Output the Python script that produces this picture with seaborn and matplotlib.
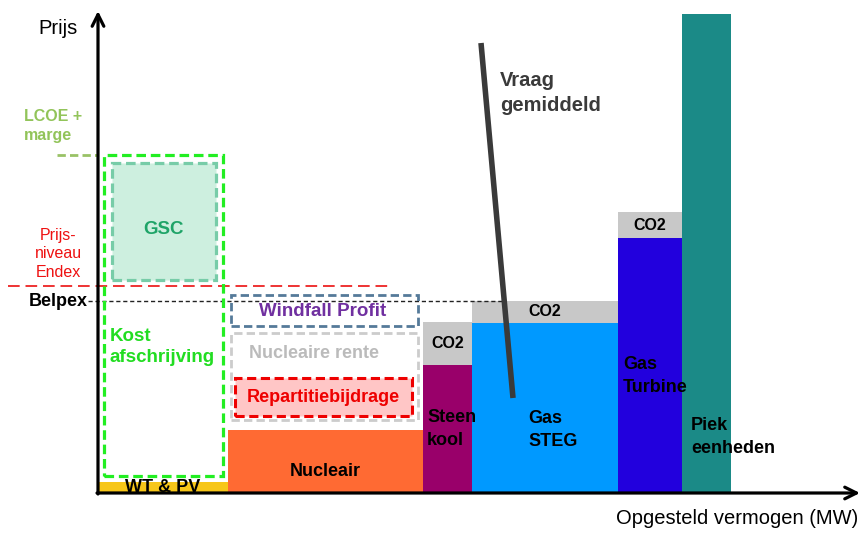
import matplotlib.pyplot as plt
import matplotlib.patches as mpatches
import seaborn as sns
import numpy as np

# merit order: capacity (MW, schematic) and cost levels (schematic units)
techs = ["WT & PV", "Nucleair", "Steen\nkool", "Gas\nSTEG", "Gas\nTurbine", "Piek\neenheden"]
capacity = [130, 195, 49, 146, 64, 49]
marginal_cost = [11, 63, 128, 170, 255, 479]
co2_cost = [0, 0, 43, 22, 26, 0]
bar_colors = ["#F7C619", "#FF6A33", "#99006A", "#0099FF", "#2200DD", "#1B8A87"]
co2_color = "#C8C8C8"

# price levels
lcoe_marge = 338
endex = 207
belpex = 192

sns.set_theme(style="white")
plt.rcParams['font.family'] = ['Liberation Sans', 'DejaVu Sans']

fig = plt.figure(figsize=(8.62, 5.33), dpi=100)
ax = fig.add_axes([0, 0, 1, 1])
ax.set_xlim(-98, 764)
ax.set_ylim(-40, 493)
ax.axis('off')

starts = np.concatenate([[0], np.cumsum(capacity)[:-1]])
centers = starts + np.array(capacity) / 2

ax.bar(starts, marginal_cost, width=capacity, align='edge', color=bar_colors, linewidth=0, zorder=2)
ax.bar(starts, co2_cost, width=capacity, bottom=marginal_cost, align='edge',
       color=co2_color, linewidth=0, zorder=2)

# bar labels
lab = dict(fontsize=13, fontweight='bold', color='black', zorder=5)
ax.text(centers[0], 5, techs[0], ha='center', va='center', **lab)
ax.text(centers[1], 21, techs[1], ha='center', va='center', **lab)
for i in (2, 3, 4):
    ax.text(centers[i], marginal_cost[i] + co2_cost[i] / 2, "CO2", ha='center', va='center',
            fontsize=11.5, fontweight='bold', color='black', zorder=5)
ax.text(starts[2] + 4, 64, techs[2], ha='left', va='center', linespacing=1.4, **lab)
ax.text(starts[3] + 56, 63, techs[3], ha='left', va='center', linespacing=1.4, **lab)
ax.text(starts[4] + 5, 117, techs[4], ha='left', va='center', linespacing=1.4, **lab)
ax.text(starts[5] + 9, 56, techs[5], ha='left', va='center', linespacing=1.4, **lab)

# price level lines
ax.plot([-41, 0], [lcoe_marge, lcoe_marge], color="#99C266", lw=2, ls=(0, (3, 1.5)), zorder=3)
ax.text(-74, 367, "LCOE +\nmarge", ha='left', va='center', fontsize=11.5, fontweight='bold',
        color="#92C45A", linespacing=1.4)
ax.plot([-90, 294], [endex, endex], color="#EE3333", lw=1.4, ls=(0, (6, 3)), zorder=3)
ax.text(-40, 239, "Prijs-\nniveau\nEndex", ha='center', va='center', fontsize=11.5,
        color="#EE1111", linespacing=1.3)
ax.plot([-10, 404], [belpex, belpex], color="#222222", lw=1, ls=(0, (3, 2)), zorder=3)
ax.text(-10, belpex, "Belpex", ha='right', va='center', fontsize=13, fontweight='bold', color='black')

# dashed boxes
def box(x0, x1, y0, y1, edge, lw, face='none', dash=(3, 1.5)):
    ax.add_patch(mpatches.Rectangle((x0, y0), x1 - x0, y1 - y0, facecolor=face, edgecolor=edge,
                                    lw=lw, ls=(0, dash), zorder=4))

box(6, 125, 17, lcoe_marge, "#22EE22", 2.3)
box(14, 118, 213, 330, "#77CCA8", 2.3, face="#CDEFDF")
ax.text(66, 264, "GSC", ha='center', va='center', fontsize=13.5, fontweight='bold', color="#1FA468", zorder=5)
ax.text(12, 146, "Kost\nafschrijving", ha='left', va='center', fontsize=13.5, fontweight='bold',
        color="#22DD22", linespacing=1.3, zorder=5)

box(133, 320, 167, 198, "#557A99", 2)
ax.text(225, 181, "Windfall Profit", ha='center', va='center', fontsize=13.5, fontweight='bold',
        color="#7030A0", zorder=5)
box(133, 320, 73, 160, "#CCCCCC", 2)
ax.text(216, 140, "Nucleaire rente", ha='center', va='center', fontsize=13, fontweight='bold',
        color="#BBBBBB", zorder=5)
box(137, 314, 77, 115, "#EE0000", 2.2, face="#FFC6C6")
ax.text(225, 95, "Repartitiebijdrage", ha='center', va='center', fontsize=13, fontweight='bold',
        color="#EE0000", zorder=5)

# average demand
ax.plot([383, 415], [450, 95], color="#3A3A3A", lw=4, solid_capstyle='butt', zorder=6)
ax.text(402, 400, "Vraag\ngemiddeld", ha='left', va='center', fontsize=14.5, fontweight='bold',
        color="#3A3A3A", linespacing=1.35)

# axes with arrows
arrow = dict(arrowstyle='->,head_length=0.7,head_width=0.35', lw=2.3, color='black',
             shrinkA=0, shrinkB=0)
ax.annotate('', xy=(0, 482), xytext=(0, -1), arrowprops=arrow, zorder=7)
ax.annotate('', xy=(762, 0), xytext=(-1, 0), arrowprops=arrow, zorder=7)
ax.text(-40, 465, "Prijs", ha='center', va='center', fontsize=14.5, color='black')
ax.text(760, -25, "Opgesteld vermogen (MW)", ha='right', va='center', fontsize=14.5, color='black')

fig.savefig("out.png", dpi=100)
